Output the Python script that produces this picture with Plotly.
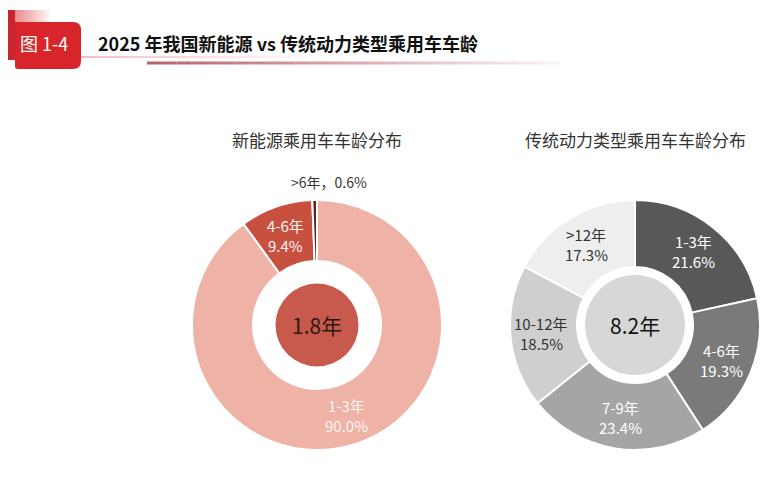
import math
import plotly.graph_objects as go

W, H = 783, 480
OFF = 8  # page body margin
FW, FH = W - OFF, H - OFF
FONT = "Noto Sans CJK SC"

# ---- data ----
title_text = "2025 年我国新能源 vs 传统动力类型乘用车车龄"
fig_tag = "图 1-4"

nev_title = "新能源乘用车车龄分布"
nev_labels = ["1-3年", "4-6年", ">6年"]
nev_values = [90.0, 9.4, 0.6]
nev_avg = "1.8年"

ice_title = "传统动力类型乘用车车龄分布"
ice_labels = ["1-3年", "4-6年", "7-9年", "10-12年", ">12年"]
ice_values = [21.6, 19.3, 23.4, 18.5, 17.3]
ice_avg = "8.2年"

# ---- styling ----
nev_colors = ["#EFB2A6", "#C8503F", "#5A2622"]
nev_text_colors = ["#FFF4F1", "#FFF4F1", "#333333"]
ice_colors = ["#585858", "#7A7A7A", "#A5A5A5", "#CFCFCF", "#EEEEEE"]
ice_text_colors = ["#FFFFFF", "#FFFFFF", "#FFFFFF", "#333333", "#333333"]

R = 125
donuts = [
    dict(cx=317, cy=325, hole=64, inner=41.5, inner_color="#C75A4C",
         labels=nev_labels, values=nev_values, colors=nev_colors,
         tcolors=nev_text_colors, title=nev_title, avg=nev_avg,
         avg_color="#2B1714", lab_r=95),
    dict(cx=635, cy=325, hole=58, inner=50, inner_color="#D7D7D7",
         labels=ice_labels, values=ice_values, colors=ice_colors,
         tcolors=ice_text_colors, title=ice_title, avg=ice_avg,
         avg_color="#111111", lab_r=94),
]


def px(x):
    return (x - OFF) / FW


def py(y):
    return 1 - (y - OFF) / FH


def note(x, y, text, size, color, xanchor="center"):
    return dict(x=px(x), y=py(y), xref="paper", yref="paper", text=text,
                showarrow=False, xanchor=xanchor, yanchor="middle",
                font=dict(family=FONT, size=size, color=color))


fig = go.Figure()
annotations = []
shapes = []

for d in donuts:
    fig.add_trace(go.Pie(
        labels=d["labels"], values=d["values"],
        hole=d["hole"] / R, sort=False, direction="clockwise", rotation=0,
        marker=dict(colors=d["colors"], line=dict(color="white", width=2)),
        textinfo="none", hoverinfo="label+percent", showlegend=False,
        domain=dict(x=[px(d["cx"] - R), px(d["cx"] + R)],
                    y=[py(d["cy"] + R), py(d["cy"] - R)]),
    ))
    # filled centre disc
    shapes.append(dict(type="circle", xref="paper", yref="paper",
                       x0=px(d["cx"] - d["inner"]), x1=px(d["cx"] + d["inner"]),
                       y0=py(d["cy"] + d["inner"]), y1=py(d["cy"] - d["inner"]),
                       fillcolor=d["inner_color"], line=dict(width=0)))
    annotations.append(note(d["cx"], d["cy"], d["avg"], 21, d["avg_color"]))
    annotations.append(note(d["cx"], 140, d["title"], 17, "#333333"))
    # slice labels at mid angle
    total = sum(d["values"])
    cum = 0
    for lab, val, tc in zip(d["labels"], d["values"], d["tcolors"]):
        mid = (cum + val / 2) / total * 2 * math.pi
        cum += val
        if val / total < 0.03:
            # tiny slice: label above the ring
            annotations.append(note(d["cx"] + 12, 182, f"{lab}，{val:.1f}%", 14, tc))
            continue
        x = d["cx"] + d["lab_r"] * math.sin(mid)
        y = d["cy"] - d["lab_r"] * math.cos(mid)
        annotations.append(note(x, y - 10, lab, 15, tc))
        annotations.append(note(x, y + 10, f"{val:.1f}%", 15, tc))

# ---- header decoration ----
steps = 20
for i in range(steps):
    shapes.append(dict(type="rect", xref="paper", yref="paper",
                       x0=px(3 + i * 2.4), x1=px(5.4 + i * 2.4), y0=py(58), y1=py(10),
                       fillcolor="#DC3C44", opacity=max(0.0, 0.8 - i * 0.04),
                       line=dict(width=0)))
shapes.append(dict(type="rect", xref="paper", yref="paper",
                   x0=px(3), x1=px(15), y0=py(60), y1=py(10),
                   fillcolor="#C8242B", line=dict(width=0)))
bx0, bx1, by0, by1, rr = 15, 81, 22, 69, 8
shapes.append(dict(
    type="path", xref="paper", yref="paper",
    path=(f"M {px(bx0)},{py(by0)} L {px(bx1 - rr)},{py(by0)} "
          f"Q {px(bx1)},{py(by0)} {px(bx1)},{py(by0 + rr)} "
          f"L {px(bx1)},{py(by1 - rr)} Q {px(bx1)},{py(by1)} {px(bx1 - rr)},{py(by1)} "
          f"L {px(bx0 + 3)},{py(by1)} Q {px(bx0)},{py(by1)} {px(bx0)},{py(by1 - 3)} Z"),
    fillcolor="#D8242B", line=dict(width=0)))
# thin line
for i in range(16):
    shapes.append(dict(type="line", xref="paper", yref="paper",
                       x0=px(81 + i * 15), x1=px(96 + i * 15), y0=py(57), y1=py(57),
                       line=dict(color="#D8343A", width=1), opacity=max(0.0, 0.6 - i * 0.038)))
# thick gradient line
for i in range(28):
    shapes.append(dict(type="line", xref="paper", yref="paper",
                       x0=px(147 + i * 14.75), x1=px(161.75 + i * 14.75), y0=py(63), y1=py(63),
                       line=dict(color="#B4505A", width=3), opacity=max(0.0, 0.9 - i * 0.031)))

annotations.append(note(44, 43, fig_tag, 18, "white"))
annotations.append(note(96, 43, f"<b>{title_text}</b>", 18, "#111111", xanchor="left"))

fig.update_layout(
    width=FW, height=FH, margin=dict(l=0, r=0, t=0, b=0),
    paper_bgcolor="white", plot_bgcolor="white",
    shapes=shapes, annotations=annotations,
)

fig.write_html("out.html")
